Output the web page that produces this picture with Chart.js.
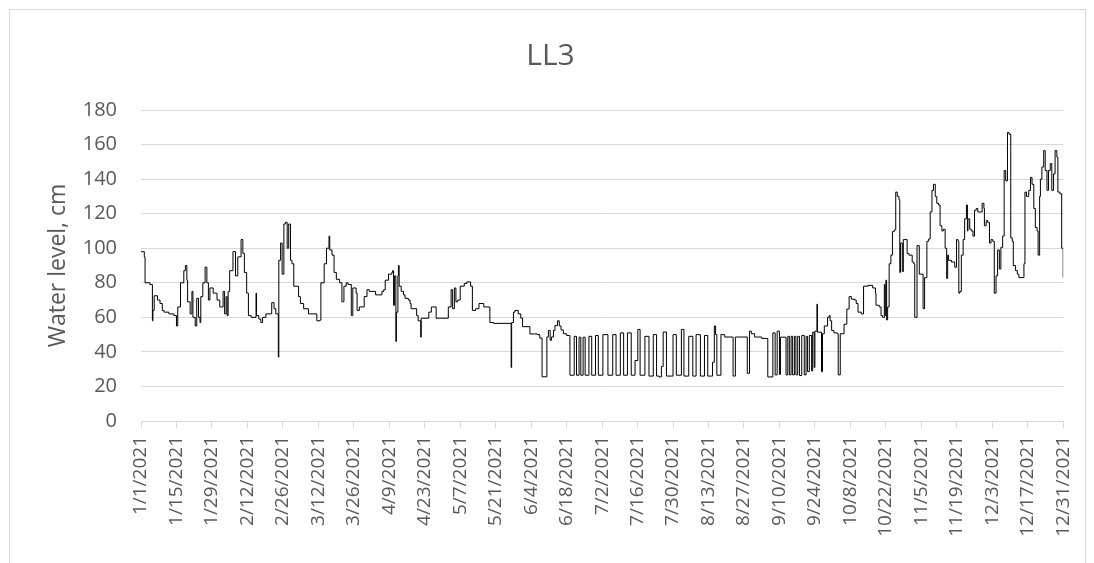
<!DOCTYPE html>
<html>
<head>
<meta charset="utf-8">
<title>LL3</title>
<script src="https://cdn.jsdelivr.net/npm/chart.js@4.4.0/dist/chart.umd.min.js"></script>
<style>
  html, body { margin: 0; padding: 0; background: #fff; overflow: hidden; }
  #frame { position: absolute; left: 9px; top: 9px; width: 1075px; height: 600px; border: 1px solid #d9d9d9; }
  #wrap { position: absolute; left: 0; top: 0; width: 1094px; height: 563px; }
</style>
</head>
<body>
<div id="frame"></div>
<div id="wrap"><canvas id="myChartLL3" width="1094" height="563"></canvas></div>
<script>
// days since 1/1/2021 at which the logged level changes
const days = [
  0, 1.3, 1.6, 3.5, 4.5, 4.7, 5.2, 6.5, 7.5, 8.4, 9.1, 11, 13, 14.0, 14.5, 15.6, 16.9, 17.5, 18.1, 18.4,
  19.4, 20.1, 20.5, 21.4, 22.0, 22.7, 23.3, 23.6, 24.4, 25.3, 26.0, 26.6, 27.2, 28.5, 30, 31.1, 32.4, 33, 33.6, 34,
  34.4, 35.0, 36.3, 37.3, 38.2, 39.5, 40.2, 40.8, 41.7, 42.4, 43.5, 45.4, 45.6, 46.5, 47.3, 48.0, 49.3, 51.6, 52.5, 53.2,
  54.2, 54.4, 55.1, 55.7, 56.4, 57.0, 57.7, 58.3, 59.0, 59.6, 60.3, 62.2, 62.9, 64.2, 66.1, 69.4, 70.7, 71.0, 72.3, 73.2,
  74.2, 74.5, 75.4, 76.2, 77.1, 78.4, 79.3, 80.1, 81.0, 81.7, 83.0, 83.6, 84.9, 85.3, 86.2, 88.1, 89.2, 90.1, 92.6, 95.1,
  95.8, 96.4, 97.7, 99.0, 99.3, 99.7, 100.1, 100.6, 100.8, 101.4, 101.6, 101.9, 102.7, 103.6, 104.2, 105.5, 106.2, 106.6, 108.8, 109.4,
  110.4, 110.6, 113.6, 114.6, 116.5, 121.3, 122.4, 123.0, 123.7, 124.3, 125.0, 126.0, 127.6, 128.6, 130.1, 130.8, 132.1, 133.4, 135.3, 137.7,
  139.2, 146.1, 146.3, 147.0, 147.6, 148.9, 149.9, 150.6, 153.5, 156.3, 157.4, 158.3, 160.2, 160.8, 161.5, 162.0, 162.8, 163.4, 164.4, 165.1,
  165.8, 166.7, 168.0, 169.3, 171.0, 171.9, 172.9, 173.6, 174.5, 175.3, 176.8, 177.9, 179.4, 180.5, 182.3, 184.3, 186.2, 187.5, 189.2, 190.5,
  192.0, 193.5, 195.0, 196.1, 197.0, 198.9, 200.5, 202.2, 203.5, 204.5, 205.4, 206.1, 207.4, 210.0, 211.3, 213.3, 214.3, 216.2, 217.8, 219.1,
  220.8, 222.4, 223.7, 225.6, 226.3, 226.8, 227.3, 228.9, 230.4, 233.7, 234.6, 239.3, 240.2, 240.9, 242.2, 245, 247.4, 249.4, 250.3, 251.1,
  252.0, 252.4, 254.6, 255.3, 255.9, 256.6, 257.2, 257.9, 258.5, 259.2, 259.9, 260.8, 261.8, 262.5, 263.1, 263.8, 264.7, 265.1, 265.7, 266.0,
  266.8, 267.0, 268.6, 269.0, 269.7, 271.0, 271.6, 272.0, 272.6, 273.5, 274.9, 275.2, 276.0, 277.5, 278.6, 279.5, 280.4, 281.7, 282.3, 283.0,
  284.3, 285.2, 286.9, 288.8, 289.9, 290.1, 291.4, 292.1, 292.7, 293.4, 293.7, 294.0, 294.3, 294.7, 295.3, 296.0, 296.6, 297.3, 297.9, 298.5,
  299.2, 299.5, 299.8, 300.5, 300.9, 302.4, 303.1, 304.4, 305.0, 305.4, 306.3, 307.2, 308.7, 309.3, 310.2, 310.9, 311.5, 312.2, 312.8, 313.5,
  314.1, 314.8, 315.4, 316.1, 316.7, 317.4, 318.0, 318.4, 318.7, 319.9, 321.2, 321.9, 322.5, 322.8, 323.2, 323.8, 324.5, 325.1, 325.8, 326.2,
  326.4, 327.1, 327.7, 328.4, 329.0, 329.7, 330.3, 332.0, 332.7, 332.9, 333.6, 334.2, 334.9, 335.5, 336.2, 336.8, 337.5, 338.1, 338.8, 339.4,
  340.1, 340.7, 341.3, 342.0, 342.6, 343.3, 343.9, 344.3, 345.2, 345.9, 346.5, 348.5, 348.9, 349.5, 350.4, 351.1, 351.7, 352.4, 353.0, 353.7,
  354.1, 354.7, 355.0, 355.6, 356.3, 356.9, 357.6, 358.2, 358.9, 359.5, 360.2, 360.8, 361.5, 361.9, 362.7, 363.4, 364.0
];

// water level (cm) from that moment on
const waterLevel = [
  98, 95, 80, 79, 58, 64, 72.5, 70, 68, 64, 63, 62, 61, 55, 66, 80, 87, 90, 81.5, 69,
  62, 75, 60, 55, 71, 60, 57, 72, 80, 89, 80, 70, 77, 74, 70, 66, 75, 62, 72, 61,
  75, 87, 98, 84, 95, 105, 97, 86, 74, 61, 60, 74, 61, 59, 57, 60, 62, 68.5, 65, 62,
  37, 93, 103, 85, 114, 115, 100, 114, 93, 91, 78, 72, 68, 65, 62, 58, 58.5, 80, 91, 100,
  107, 99, 96, 86, 82, 80, 69, 78, 80, 79, 61, 77, 74, 64, 66, 72, 76, 75, 73, 75,
  76, 81.5, 85, 86, 87, 67, 84, 46, 63, 84, 90, 78, 75, 73, 71, 70, 68, 65, 61, 58,
  48.5, 59.5, 63, 66, 59.5, 66, 76, 65, 77, 69, 70, 78, 79.6, 80.5, 78, 64, 65, 68, 66, 57,
  56.5, 31, 57, 63, 64, 62, 59.5, 54.6, 50.4, 50, 48, 25.6, 48.6, 52.4, 46.7, 48.6, 52.4, 55.2, 58, 55,
  52.7, 50.5, 49.5, 26.5, 49, 26.5, 48.5, 26.5, 48.5, 26.5, 49, 26.5, 49.5, 26.5, 50, 26.5, 50, 26.5, 51, 26.5,
  51, 26.5, 35, 53, 26.5, 49, 26, 50, 26, 25.5, 31.5, 51.5, 26, 50, 26.5, 53, 26, 49, 26, 50,
  26, 49.5, 26, 34, 55, 50, 26.5, 50, 48.6, 26, 48.6, 27.6, 52, 50.5, 48.6, 47.8, 25.5, 51, 26.7, 52,
  27, 48.5, 26.7, 49, 26.7, 49, 26.7, 49, 26.7, 49, 26.3, 49.5, 26.7, 49, 28.6, 49.5, 29, 51.4, 31, 52,
  67.6, 51.4, 28.6, 50.5, 55, 60, 61, 58, 52.4, 51, 50.5, 26.7, 50.5, 56, 64.8, 72, 70.5, 70, 68, 63,
  62, 78, 78.5, 77, 74, 67, 66, 61, 60, 79, 61, 81.5, 58.5, 66, 91, 96, 109.6, 110.6, 132.5, 130,
  128, 86, 103, 86.5, 105, 97, 96, 92, 91, 60, 101.5, 85, 65, 83, 104, 105.4, 121, 133.5, 137, 130,
  126, 125, 113, 110, 111, 100, 82.5, 96, 93, 92, 89, 105, 104, 74, 75, 96, 105, 117, 125, 110,
  117, 111, 110, 107, 122, 123, 121, 126, 123, 113, 116, 115, 103, 105, 104, 74, 84, 99, 88, 100.5,
  107, 145, 139, 167, 166, 106, 104, 90, 87, 85, 83, 91, 132.5, 130, 133.5, 141, 137, 123, 112, 110,
  96, 130, 140, 147, 156.5, 145, 133.5, 145, 149, 133.5, 143, 156.5, 152.7, 132.5, 131.5, 100, 83
];

const tickLabels = [
  '1/1/2021', '1/15/2021', '1/29/2021', '2/12/2021', '2/26/2021', '3/12/2021', '3/26/2021',
  '4/9/2021', '4/23/2021', '5/7/2021', '5/21/2021', '6/4/2021', '6/18/2021', '7/2/2021',
  '7/16/2021', '7/30/2021', '8/13/2021', '8/27/2021', '9/10/2021', '9/24/2021', '10/8/2021',
  '10/22/2021', '11/5/2021', '11/19/2021', '12/3/2021', '12/17/2021', '12/31/2021'
];

const textGrey = '#595959';
const gridGrey = '#d9d9d9';
Chart.defaults.font.family = "'Open Sans', sans-serif";

const points = days.map((d, i) => ({ x: d, y: waterLevel[i] }));

function createChartLL3() {
    const ctx = document.getElementById('myChartLL3').getContext('2d');
    const chart = new Chart(ctx, {
        type: 'line',
        data: {
            datasets: [{
                label: 'LL3',
                data: points,
                borderColor: '#000000',
                borderWidth: 1,
                pointRadius: 0,
                stepped: true,
                fill: false
            }]
        },
        options: {
            responsive: false,
            animation: false,
            layout: { padding: { left: 16, right: 9, top: 0, bottom: 0 } },
            plugins: {
                legend: { display: false },
                tooltip: { enabled: false },
                title: {
                    display: true,
                    text: 'LL3',
                    color: textGrey,
                    font: { size: 30, weight: 'normal' },
                    padding: { top: 38, bottom: 36 }
                }
            },
            scales: {
                x: {
                    type: 'linear',
                    min: 0,
                    max: 364,
                    offset: false,
                    grid: { drawOnChartArea: false, drawTicks: true, tickLength: 7, color: gridGrey },
                    border: { color: gridGrey },
                    ticks: {
                        stepSize: 14,
                        autoSkip: false,
                        minRotation: 90,
                        maxRotation: 90,
                        padding: 8,
                        color: textGrey,
                        font: { size: 19 },
                        callback: (value) => tickLabels[Math.round(value / 14)]
                    },
                    afterFit: (scale) => { scale.height = 142; }
                },
                y: {
                    min: 0,
                    max: 180,
                    grid: { color: gridGrey, drawTicks: false },
                    border: { display: false },
                    ticks: { stepSize: 20, padding: 24, color: textGrey, font: { size: 20 } },
                    title: {
                        display: true,
                        text: 'Water level, cm',
                        color: textGrey,
                        font: { size: 23 },
                        padding: { top: 29, bottom: 0 }
                    },
                    afterFit: (scale) => { scale.width = 125; }
                }
            }
        }
    });
    return chart;
}

const myChartLL3 = createChartLL3();
</script>
</body>
</html>
